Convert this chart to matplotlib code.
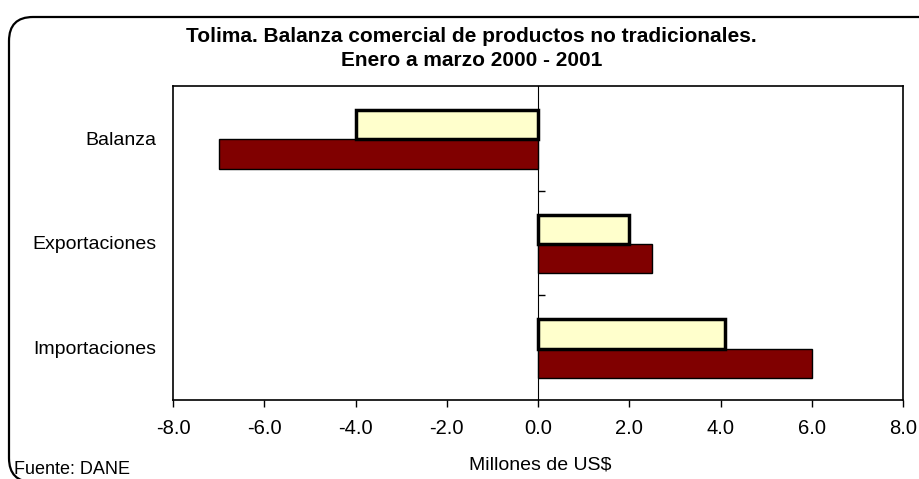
import numpy as np
import matplotlib.pyplot as plt
from matplotlib.patches import FancyBboxPatch

plt.rcParams['font.family'] = ['Liberation Sans', 'DejaVu Sans']
plt.rcParams['axes.unicode_minus'] = False

# datos (millones de US$), de abajo hacia arriba
categorias = ['Importaciones', 'Exportaciones', 'Balanza']
serie_roja = [6.0, 2.5, -7.0]
serie_amarilla = [4.1, 2.0, -4.0]
xticks = [-8, -6, -4, -2, 0, 2, 4, 6, 8]

fig = plt.figure(figsize=(9.19, 4.79), dpi=100)
ax = fig.add_axes([0.1883, 0.1649, 0.7943, 0.6556])

y = np.arange(len(categorias))
h = 0.28
ax.barh(y - 0.15, serie_roja, height=h, color='#800000', edgecolor='black', linewidth=1.0, zorder=2)
ax.barh(y + 0.13, serie_amarilla, height=h, color='#FFFFCC', edgecolor='black', linewidth=2.5, zorder=3)

ax.set_xlim(-8, 8)
ax.set_ylim(-0.5, 2.5)
ax.set_xticks(xticks)
ax.set_xticklabels(['%.1f' % v for v in xticks], fontsize=14.5)
ax.tick_params(axis='x', direction='out', length=5, width=1, pad=9)
ax.set_yticks(y)
ax.set_yticklabels(categorias, fontsize=14)
ax.tick_params(axis='y', length=0, pad=12)
for s in ax.spines.values():
    s.set_linewidth(1.2)

# eje de categorias en el cero
sec = ax.secondary_yaxis(0.5)
sec.set_yticks([0.5, 1.5])
sec.set_yticklabels(['', ''])
sec.tick_params(direction='out', length=5, width=1)
sec.spines['left'].set_linewidth(1.2)

fig.text(0.513, 0.924, 'Tolima. Balanza comercial de productos no tradicionales.',
         ha='center', va='center', fontsize=15, fontweight='bold')
fig.text(0.513, 0.873, 'Enero a marzo 2000 - 2001',
         ha='center', va='center', fontsize=15, fontweight='bold')
fig.text(0.588, 0.029, 'Millones de US$', ha='center', va='center', fontsize=14)
fig.text(0.015, 0.019, 'Fuente: DANE', ha='left', va='center', fontsize=13)

marco = FancyBboxPatch((9, -3), 1000, 479 - 17 + 3,
                       boxstyle='round,pad=0,rounding_size=24',
                       transform=None, fill=False, edgecolor='black', linewidth=1.6, clip_on=False)
fig.add_artist(marco)

fig.savefig('out.png', dpi=100)
